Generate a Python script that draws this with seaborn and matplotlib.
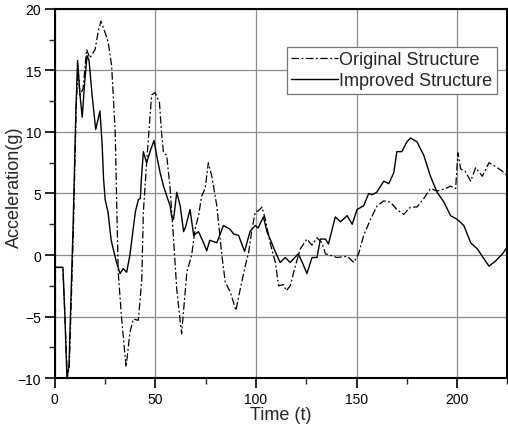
import numpy as np
import pandas as pd
import seaborn as sns
from matplotlib import pyplot as plt
from matplotlib.ticker import MultipleLocator

# Improved structure (solid line)
imp_t = [0, 4, 5, 6, 7, 9, 10.5, 11.3, 12.5, 13.6, 14.8, 16, 17, 18.5, 20.3, 22.4, 23.5,
         24.2, 25, 26.4, 28, 29, 30.5, 32.4, 34, 35.7, 37.3, 40, 41.5, 42.5, 43, 44, 45.6,
         47.5, 49.3, 50.6, 52.3, 54, 55.6, 57.3, 58, 59, 60.6, 62.3, 64, 65, 67.2, 69, 71.4,
         73.9, 75.5, 77, 80.5, 83.8, 87, 89, 91.3, 94.3, 97, 99.6, 101, 103.7, 105.4, 107,
         109.6, 112, 114.5, 117, 121, 123, 125.3, 127.8, 130.3, 132, 134.5, 136, 139.4, 142,
         145.3, 147.8, 150.2, 153.5, 156, 157.7, 160, 163.5, 166, 168.5, 170, 172.5, 175,
         176.8, 180, 183.4, 186.7, 190, 193.4, 196.7, 200, 203.3, 206.7, 210, 213.3, 215.8,
         219, 222.5, 226]
imp_acc = [-1.0, -1.0, -5, -10, -9, 2, 12, 15.8, 13, 11.2, 14, 16.2, 15.8, 13, 10.2, 11.7, 9,
           6.2, 4.5, 3.5, 1.2, 0.5, -0.5, -1.5, -1.1, -1.4, 0, 3.5, 4.5, 4.6, 6.2, 8.4, 7.5,
           8.5, 9.3, 8.1, 6.7, 5.6, 4.8, 4.0, 3.2, 2.9, 5.1, 4.0, 1.9, 2.3, 3.7, 1.6, 1.9,
           1.0, 0.35, 1.2, 1.0, 2.4, 2.1, 1.7, 1.6, 0.3, 1.9, 2.4, 2.2, 3.1, 1.9, 1.3,
           0.25, -0.6, -0.2, -0.6, 0.1, -0.6, -1.5, -0.2, -0.2, 1.3, 1.3, 0.9, 3.1, 2.7,
           3.2, 2.5, 3.7, 4.0, 5.0, 4.9, 5.1, 6.0, 5.8, 6.7, 8.4, 8.4, 9.2,
           9.5, 9.2, 8.1, 6.4, 5.1, 4.3, 3.2, 2.9, 2.4, 1.0, 0.5, -0.3, -0.9,
           -0.5, 0.1, 0.9]

# Original structure (dash-dot line)
org_t = [0, 4, 5, 6.2, 7.2, 9.2, 10.6, 11.5, 12.5, 14, 15.8, 17.4, 20, 21.6, 22.9, 24.9, 26.5,
         28.2, 30, 30.7, 31.5, 33.2, 35.4, 37.3, 39, 41.5, 43.2, 44, 45.6, 48.1, 49.8, 52, 53,
         54, 55.6, 57.3, 59, 60.6, 63, 65.6, 68, 69.7, 71.4, 73, 74.7, 76.3, 78, 80.5, 83,
         84.7, 87.2, 90, 92.1, 94.6, 96.3, 98, 99.6, 101.2, 103, 104.6, 107, 109.6, 111.2,
         113.7, 115, 117, 119.5, 122, 125.3, 127.8, 130.3, 132.8, 134.5, 140.3, 145.3, 148.6,
         151, 153.5, 156.9, 160.2, 163.5, 166.8, 170, 173.4, 176.8, 180, 183.4, 186.7, 190,
         194.2, 196.7, 199.2, 200.4, 201.7, 204, 206.7, 209.2, 212.5, 215.8, 219, 222.5, 226]
org_acc = [-1.0, -1.0, -5, -10, -9, 2, 12, 15.2, 13, 13.5, 16.7, 16, 16.7, 18.2, 19.0, 18.1, 17.3,
           15.4, 10.0, 4.5, -1.4, -5.2, -9.1, -6.3, -5.2, -5.3, -2.0, 3.5, 7.5, 13.0, 13.2, 12.4, 10,
           8.3, 8.1, 5.4, 1.3, -2.8, -6.4, -1.4, 0, 2.1, 3.2, 4.8, 5.4, 7.5, 6.4, 4.0, 0,
           -2.2, -3.0, -4.5, -2.8, -0.9, 0.2, 2.1, 3.5, 3.6, 3.9, 2.9, 1.0, -0.6, -2.5,
           -2.4, -2.9, -2.5, -0.9, 0.5, 1.3, 0.8, 1.4, 1.0, 0.1, -0.2, -0.1, -0.6,
           0.1, 1.6, 2.9, 4.0, 4.4, 4.3, 3.7, 3.3, 3.9, 3.9, 4.6, 5.4, 5.2,
           5.4, 5.6, 5.4, 8.3, 7.0, 6.8, 6.0, 7.1, 6.4, 7.5, 7.2, 6.8, 6.3]

sns.set_style("ticks")
plt.rcParams['font.family'] = ['Liberation Sans', 'DejaVu Sans']

fig = plt.figure(figsize=(5.08, 4.27), dpi=100)
ax = fig.add_axes([0.108, 0.112, 0.891, 0.865])

# grid first so the curves sit on top
ax.set_axisbelow(True)
ax.grid(True, color="#8c8c8c", linewidth=0.9)

sns.lineplot(x=org_t, y=org_acc, ax=ax, color="black", linewidth=0.9,
             estimator=None, label="Original Structure")
sns.lineplot(x=imp_t, y=imp_acc, ax=ax, color="black", linewidth=1.0,
             estimator=None, label="Improved Structure")
ax.lines[0].set_dashes((6, 2, 1.5, 2))

ax.set_xlim(0, 225)
ax.set_ylim(-10, 20)
ax.xaxis.set_major_locator(MultipleLocator(50))
ax.xaxis.set_minor_locator(MultipleLocator(25))
ax.yaxis.set_major_locator(MultipleLocator(5))
ax.yaxis.set_minor_locator(MultipleLocator(2.5))
ax.tick_params(which="major", direction="out", length=7, width=1.2, labelsize=10,
               colors="black", pad=3)
ax.tick_params(which="minor", direction="out", length=4, width=1.0)

for s in ax.spines.values():
    s.set_linewidth(1.5)
    s.set_color("black")
    s.set_visible(True)

ax.set_xlabel("Time (t)", fontsize=13, labelpad=0)
ax.set_ylabel("Acceleration(g)", fontsize=13)
ax.yaxis.set_label_coords(-0.071, 0.52)

leg = ax.legend(loc="upper right", bbox_to_anchor=(0.976, 0.897), borderaxespad=0,
                fontsize=13, handlelength=2.6, handletextpad=0.05, labelspacing=0.2,
                borderpad=0.25, fancybox=False, framealpha=1, edgecolor="#777777")
leg.get_frame().set_linewidth(0.9)

plt.savefig("out.png", dpi=100)
